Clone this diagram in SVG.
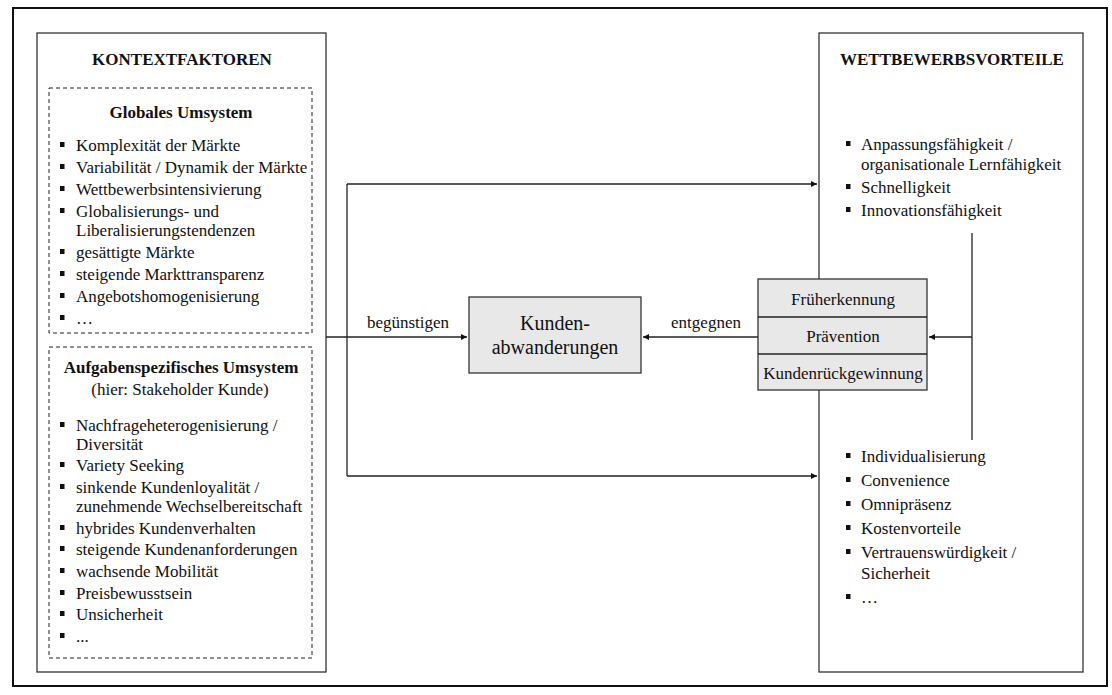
<svg xmlns="http://www.w3.org/2000/svg" width="1112" height="695" viewBox="0 0 1112 695">
  <style>
    text { font-family: "Liberation Serif", "Times New Roman", serif; fill: #111; }
    .t { font-size: 17px; }
    .h { font-size: 17px; font-weight: bold; }
    .c { text-anchor: middle; }
    .big { font-size: 20px; }
    .box { fill: #fff; stroke: #333; stroke-width: 1.3; }
    .grey { fill: #e8e8e8; stroke: #333; stroke-width: 1.3; }
    .dash { fill: none; stroke: #222; stroke-width: 1; stroke-dasharray: 4 3; }
    .line { fill: none; stroke: #222; stroke-width: 1.3; }
    .bul { fill: #111; }
  </style>
  <defs>
    <marker id="arrow" viewBox="0 0 10 10" refX="10" refY="5" markerWidth="8" markerHeight="6" markerUnits="userSpaceOnUse" orient="auto">
      <path d="M0,0 L10,5 L0,10 z" fill="#111"/>
    </marker>
    <rect id="b" width="4.5" height="5" class="bul"/>
  </defs>

  <rect width="1112" height="695" fill="#fff"/>
  <!-- outer frame -->
  <rect x="13" y="8" width="1094" height="678" fill="none" stroke="#111" stroke-width="2"/>

  <!-- left column: context factors -->
  <g id="kontextfaktoren">
    <rect class="box" x="37" y="33" width="289" height="639"/>
    <text class="h c" x="182" y="65">KONTEXTFAKTOREN</text>
  </g>

  <g id="globales-umsystem">
    <rect class="dash" x="49" y="88" width="263" height="245"/>
    <text class="h c" x="181" y="118">Globales Umsystem</text>
    <use href="#b" x="60" y="142"/><text class="t" x="76" y="151">Komplexität der Märkte</text>
    <use href="#b" x="60" y="164"/><text class="t" x="76" y="173">Variabilität / Dynamik der Märkte</text>
    <use href="#b" x="60" y="186"/><text class="t" x="76" y="195">Wettbewerbsintensivierung</text>
    <use href="#b" x="60" y="208"/><text class="t" x="76" y="217">Globalisierungs- und</text>
    <text class="t" x="76" y="236">Liberalisierungstendenzen</text>
    <use href="#b" x="60" y="249"/><text class="t" x="76" y="258">gesättigte Märkte</text>
    <use href="#b" x="60" y="271"/><text class="t" x="76" y="280">steigende Markttransparenz</text>
    <use href="#b" x="60" y="293"/><text class="t" x="76" y="302">Angebotshomogenisierung</text>
    <use href="#b" x="60" y="315"/><text class="t" x="76" y="324">…</text>
  </g>

  <g id="aufgabenspezifisches-umsystem">
    <rect class="dash" x="49" y="347" width="263" height="311"/>
    <text class="h c" x="181" y="373">Aufgabenspezifisches Umsystem</text>
    <text class="t c" x="180" y="395">(hier: Stakeholder Kunde)</text>
    <use href="#b" x="60" y="422"/><text class="t" x="76" y="431">Nachfrageheterogenisierung /</text>
    <text class="t" x="76" y="450">Diversität</text>
    <use href="#b" x="60" y="462"/><text class="t" x="76" y="471">Variety Seeking</text>
    <use href="#b" x="60" y="484"/><text class="t" x="76" y="493">sinkende Kundenloyalität /</text>
    <text class="t" x="76" y="512">zunehmende Wechselbereitschaft</text>
    <use href="#b" x="60" y="525"/><text class="t" x="76" y="534">hybrides Kundenverhalten</text>
    <use href="#b" x="60" y="546"/><text class="t" x="76" y="555">steigende Kundenanforderungen</text>
    <use href="#b" x="60" y="568"/><text class="t" x="76" y="577">wachsende Mobilität</text>
    <use href="#b" x="60" y="590"/><text class="t" x="76" y="599">Preisbewusstsein</text>
    <use href="#b" x="60" y="611"/><text class="t" x="76" y="620">Unsicherheit</text>
    <use href="#b" x="60" y="633"/><text class="t" x="76" y="642">...</text>
  </g>

  <!-- right column: competitive advantages -->
  <g id="wettbewerbsvorteile">
    <rect class="box" x="819" y="33" width="264" height="639"/>
    <text class="h c" x="952" y="65">WETTBEWERBSVORTEILE</text>
    <use href="#b" x="846" y="141"/><text class="t" x="861" y="150">Anpassungsfähigkeit /</text>
    <text class="t" x="861" y="170">organisationale Lernfähigkeit</text>
    <use href="#b" x="846" y="184"/><text class="t" x="861" y="193">Schnelligkeit</text>
    <use href="#b" x="846" y="207"/><text class="t" x="861" y="216">Innovationsfähigkeit</text>
    <use href="#b" x="846" y="453"/><text class="t" x="861" y="462">Individualisierung</text>
    <use href="#b" x="846" y="477"/><text class="t" x="861" y="486">Convenience</text>
    <use href="#b" x="846" y="501"/><text class="t" x="861" y="510">Omnipräsenz</text>
    <use href="#b" x="846" y="525"/><text class="t" x="861" y="534">Kostenvorteile</text>
    <use href="#b" x="846" y="549"/><text class="t" x="861" y="558">Vertrauenswürdigkeit /</text>
    <text class="t" x="861" y="579">Sicherheit</text>
    <use href="#b" x="846" y="594"/><text class="t" x="861" y="603">…</text>
  </g>

  <!-- centre: customer churn -->
  <g id="kundenabwanderungen">
    <rect class="grey" x="469" y="297" width="172" height="76"/>
    <text class="t big c" x="555" y="330">Kunden-</text>
    <text class="t big c" x="555" y="354">abwanderungen</text>
  </g>

  <!-- measures stack -->
  <g id="massnahmen">
    <rect class="grey" x="758" y="279" width="169" height="111"/>
    <line class="line" x1="758" y1="317" x2="927" y2="317"/>
    <line class="line" x1="758" y1="354" x2="927" y2="354"/>
    <text class="t c" x="843" y="305">Früherkennung</text>
    <text class="t c" x="843" y="342">Prävention</text>
    <text class="t c" x="843" y="379">Kundenrückgewinnung</text>
  </g>

  <g id="connectors">
    <!-- context factors favour churn and shape advantages -->
    <line class="line" x1="326" y1="337" x2="467" y2="337" marker-end="url(#arrow)"/>
    <polyline class="line" points="347,184 347,476"/>
    <line class="line" x1="347" y1="184" x2="817" y2="184" marker-end="url(#arrow)"/>
    <line class="line" x1="347" y1="476" x2="817" y2="476" marker-end="url(#arrow)"/>
    <!-- measures counter churn -->
    <line class="line" x1="758" y1="337" x2="643" y2="337" marker-end="url(#arrow)"/>
    <!-- advantages feed the measures -->
    <line class="line" x1="972" y1="233" x2="972" y2="440"/>
    <line class="line" x1="972" y1="337" x2="929" y2="337" marker-end="url(#arrow)"/>
    <text class="t c" x="408" y="328">begünstigen</text>
    <text class="t c" x="706" y="328">entgegnen</text>
  </g>
</svg>
